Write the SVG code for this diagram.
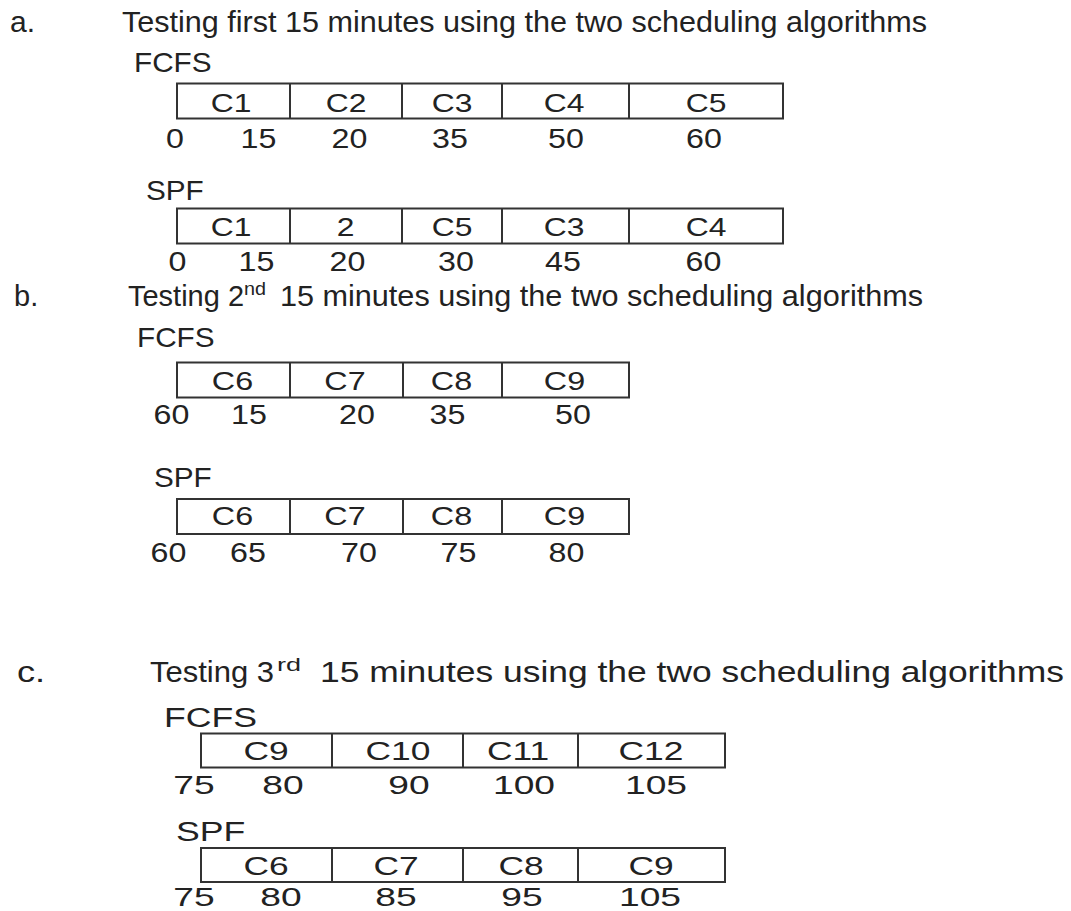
<svg xmlns="http://www.w3.org/2000/svg" width="1071" height="911" viewBox="0 0 1071 911">
<style>
text{font-family:"Liberation Sans",Arial,Helvetica,sans-serif;fill:#222}
.ti{font-size:30px}
.tb{font-size:29px}
.sup{font-size:18px}
.hd{font-size:27px}
.lb{font-size:26.5px;text-anchor:middle}
.nm{font-size:28px;text-anchor:middle}
.lc{font-size:26px;text-anchor:middle}
.bx{fill:none;stroke:#333;stroke-width:2}
</style>
<rect width="1071" height="911" fill="#fff"/>

<!-- Section a -->
<g id="section-a">
<text class="ti" x="10" y="32">a.</text>
<text class="ti" x="122" y="32" textLength="805" lengthAdjust="spacingAndGlyphs">Testing first 15 minutes using the two scheduling algorithms</text>
</g>
<g id="a-fcfs">
<text class="hd" transform="translate(134,72) scale(1.1,1)">FCFS</text>
<rect class="bx" x="177" y="83.5" width="606" height="35"/>
<path class="bx" d="M290 83.5V118.5M402 83.5V118.5M502 83.5V118.5M629 83.5V118.5"/>
<text class="lb" transform="translate(231,112) scale(1.2,1)">C1</text>
<text class="lb" transform="translate(346,112) scale(1.2,1)">C2</text>
<text class="lb" transform="translate(452,112) scale(1.2,1)">C3</text>
<text class="lb" transform="translate(564,112) scale(1.2,1)">C4</text>
<text class="lb" transform="translate(706,112) scale(1.2,1)">C5</text>
<text class="nm" transform="translate(175,148) scale(1.15,1)">0</text>
<text class="nm" transform="translate(258.5,148) scale(1.15,1)">15</text>
<text class="nm" transform="translate(349.5,148) scale(1.15,1)">20</text>
<text class="nm" transform="translate(450,148) scale(1.15,1)">35</text>
<text class="nm" transform="translate(566,148) scale(1.15,1)">50</text>
<text class="nm" transform="translate(704,148) scale(1.15,1)">60</text>
</g>
<g id="a-spf">
<text class="hd" transform="translate(146,200) scale(1.1,1)">SPF</text>
<rect class="bx" x="177" y="208.5" width="606" height="35"/>
<path class="bx" d="M290 208.5V243.5M402 208.5V243.5M502 208.5V243.5M629 208.5V243.5"/>
<text class="lb" transform="translate(231,236) scale(1.2,1)">C1</text>
<text class="lb" transform="translate(345.5,236) scale(1.2,1)">2</text>
<text class="lb" transform="translate(452,236) scale(1.2,1)">C5</text>
<text class="lb" transform="translate(564,236) scale(1.2,1)">C3</text>
<text class="lb" transform="translate(706,236) scale(1.2,1)">C4</text>
<text class="nm" transform="translate(177.5,271) scale(1.15,1)">0</text>
<text class="nm" transform="translate(256.5,271) scale(1.15,1)">15</text>
<text class="nm" transform="translate(347.5,271) scale(1.15,1)">20</text>
<text class="nm" transform="translate(456,271) scale(1.15,1)">30</text>
<text class="nm" transform="translate(563,271) scale(1.15,1)">45</text>
<text class="nm" transform="translate(703.5,271) scale(1.15,1)">60</text>
</g>

<!-- Section b -->
<g id="section-b">
<text class="tb" x="14" y="306">b.</text>
<text class="tb" x="128" y="306" textLength="116" lengthAdjust="spacingAndGlyphs">Testing 2</text>
<text class="sup" x="244" y="295" textLength="22" lengthAdjust="spacingAndGlyphs">nd</text>
<text class="tb" x="280" y="306" textLength="643" lengthAdjust="spacingAndGlyphs">15 minutes using the two scheduling algorithms</text>
</g>
<g id="b-fcfs">
<text class="hd" transform="translate(137,347) scale(1.1,1)">FCFS</text>
<rect class="bx" x="177" y="362.5" width="452" height="35"/>
<path class="bx" d="M290 362.5V397.5M403 362.5V397.5M502 362.5V397.5"/>
<text class="lb" transform="translate(232.5,390) scale(1.22,1)">C6</text>
<text class="lb" transform="translate(345,390) scale(1.22,1)">C7</text>
<text class="lb" transform="translate(451.5,390) scale(1.22,1)">C8</text>
<text class="lb" transform="translate(564.5,390) scale(1.22,1)">C9</text>
<text class="nm" transform="translate(171.5,424) scale(1.15,1)">60</text>
<text class="nm" transform="translate(249,424) scale(1.15,1)">15</text>
<text class="nm" transform="translate(357,424) scale(1.15,1)">20</text>
<text class="nm" transform="translate(447.5,424) scale(1.15,1)">35</text>
<text class="nm" transform="translate(573,424) scale(1.15,1)">50</text>
</g>
<g id="b-spf">
<text class="hd" transform="translate(154,487) scale(1.1,1)">SPF</text>
<rect class="bx" x="177" y="499" width="452" height="35"/>
<path class="bx" d="M290 499V534M403 499V534M502 499V534"/>
<text class="lb" transform="translate(232.5,525) scale(1.22,1)">C6</text>
<text class="lb" transform="translate(345,525) scale(1.22,1)">C7</text>
<text class="lb" transform="translate(451.5,525) scale(1.22,1)">C8</text>
<text class="lb" transform="translate(564.5,525) scale(1.22,1)">C9</text>
<text class="nm" transform="translate(168.5,562) scale(1.15,1)">60</text>
<text class="nm" transform="translate(248,562) scale(1.15,1)">65</text>
<text class="nm" transform="translate(359,562) scale(1.15,1)">70</text>
<text class="nm" transform="translate(458.5,562) scale(1.15,1)">75</text>
<text class="nm" transform="translate(566.5,562) scale(1.15,1)">80</text>
</g>

<!-- Section c -->
<g id="section-c">
<text class="tb" transform="translate(17,682) scale(1.25,1)">c.</text>
<text class="tb" x="150" y="682" textLength="124" lengthAdjust="spacingAndGlyphs">Testing 3</text>
<text class="sup" x="277" y="671" textLength="24" lengthAdjust="spacingAndGlyphs">rd</text>
<text class="tb" x="320" y="682" textLength="744" lengthAdjust="spacingAndGlyphs">15 minutes using the two scheduling algorithms</text>
</g>
<g id="c-fcfs">
<text class="hd" transform="translate(164,727) scale(1.32,1)">FCFS</text>
<rect class="bx" x="201" y="733.5" width="524" height="34"/>
<path class="bx" d="M332 733.5V767.5M463 733.5V767.5M578 733.5V767.5"/>
<text class="lc" transform="translate(266,760) scale(1.36,1)">C9</text>
<text class="lc" transform="translate(398,760) scale(1.36,1)">C10</text>
<text class="lc" transform="translate(518,760) scale(1.36,1)">C11</text>
<text class="lc" transform="translate(651,760) scale(1.36,1)">C12</text>
<text class="lc" transform="translate(194,794) scale(1.43,1)">75</text>
<text class="lc" transform="translate(283,794) scale(1.43,1)">80</text>
<text class="lc" transform="translate(409,794) scale(1.43,1)">90</text>
<text class="lc" transform="translate(524,794) scale(1.43,1)">100</text>
<text class="lc" transform="translate(656,794) scale(1.43,1)">105</text>
</g>
<g id="c-spf">
<text class="hd" transform="translate(176,841) scale(1.32,1)">SPF</text>
<rect class="bx" x="201" y="848" width="524" height="34"/>
<path class="bx" d="M332 848V882M463 848V882M578 848V882"/>
<text class="lc" transform="translate(266,875) scale(1.36,1)">C6</text>
<text class="lc" transform="translate(396,875) scale(1.36,1)">C7</text>
<text class="lc" transform="translate(521,875) scale(1.36,1)">C8</text>
<text class="lc" transform="translate(651,875) scale(1.36,1)">C9</text>
<text class="lc" transform="translate(194,906) scale(1.43,1)">75</text>
<text class="lc" transform="translate(281,906) scale(1.43,1)">80</text>
<text class="lc" transform="translate(396,906) scale(1.43,1)">85</text>
<text class="lc" transform="translate(522,906) scale(1.43,1)">95</text>
<text class="lc" transform="translate(650,906) scale(1.43,1)">105</text>
</g>
<g id="connectors"/>
</svg>
